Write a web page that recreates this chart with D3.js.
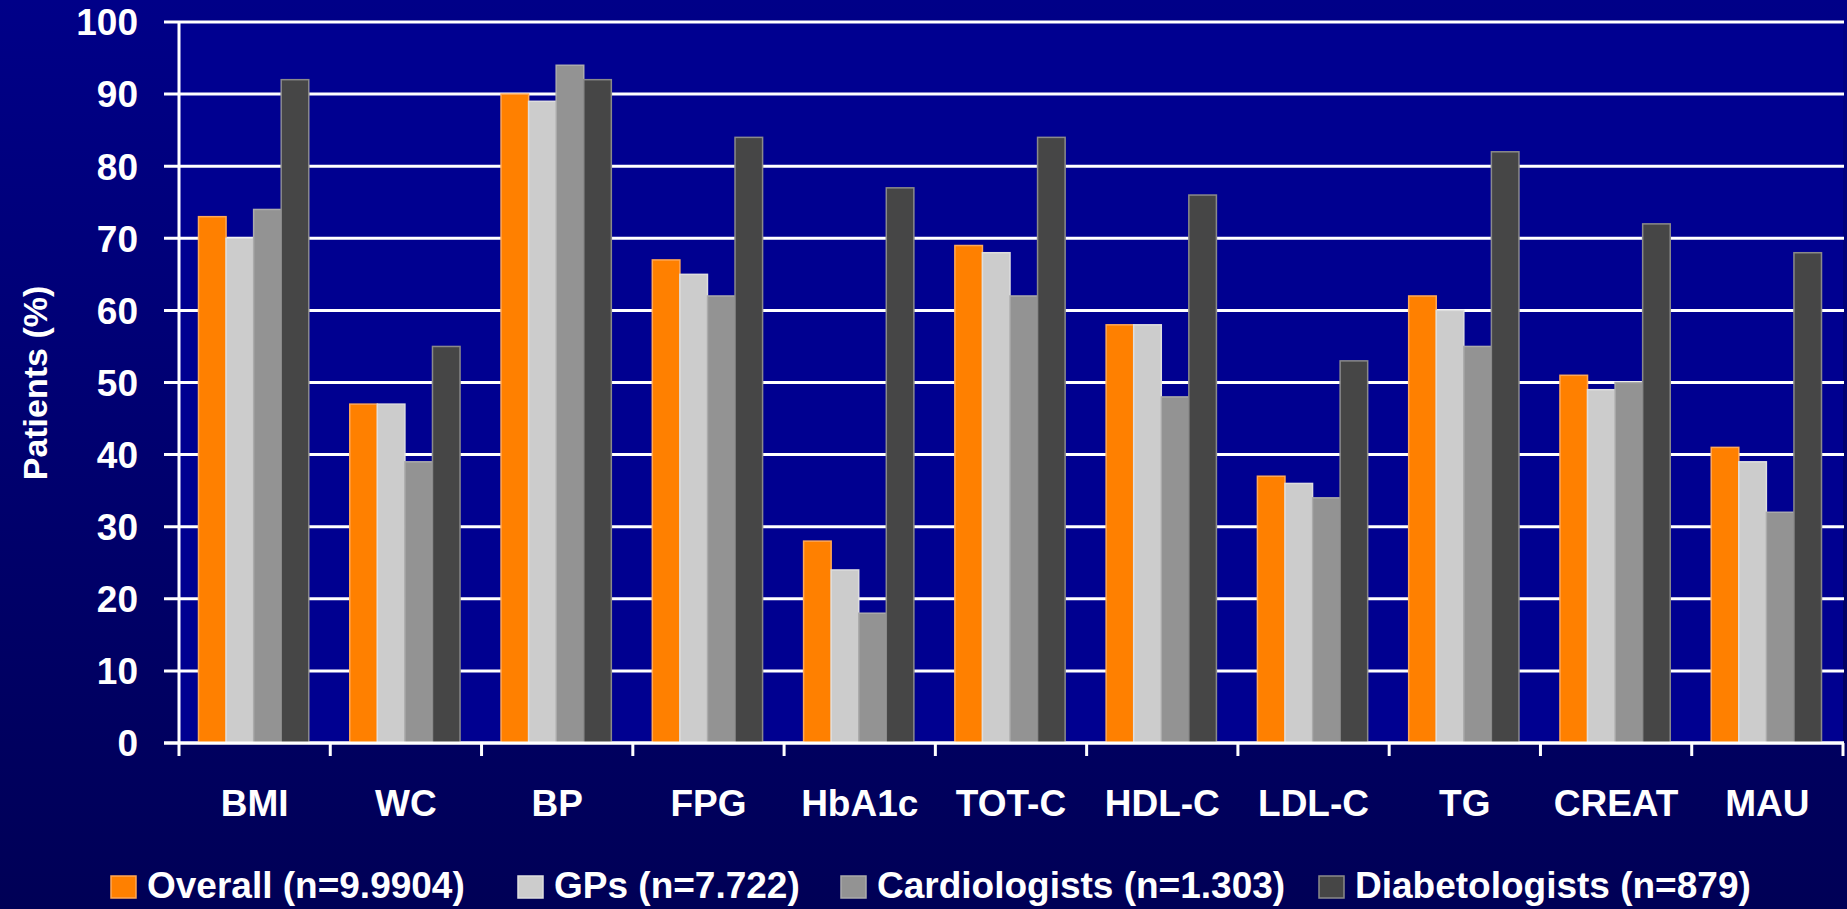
<!DOCTYPE html>
<html>
<head>
<meta charset="utf-8">
<script src="https://cdn.jsdelivr.net/npm/d3@7"></script>
<style>
  body { margin: 0; background: #000070; }
  text { font-family: "Liberation Sans", Arial, sans-serif; font-weight: bold; fill: #fff; }
</style>
</head>
<body>
<div id="chart"></div>
<script>
// data
const categories = ["BMI", "WC", "BP", "FPG", "HbA1c", "TOT-C", "HDL-C", "LDL-C", "TG", "CREAT", "MAU"]
const seriesNames = ["Overall (n=9.9904)", "GPs (n=7.722)", "Cardiologists (n=1.303)", "Diabetologists (n=879)"]
const overall = [73, 47, 90, 67, 28, 69, 58, 37, 62, 51, 41]
const gps = [70, 47, 89, 65, 24, 68, 58, 36, 60, 49, 39]
const cardiologists = [74, 39, 94, 62, 18, 62, 48, 34, 55, 50, 32]
const diabetologists = [92, 55, 92, 84, 77, 84, 76, 53, 82, 72, 68]
const yTicks = [0, 10, 20, 30, 40, 50, 60, 70, 80, 90, 100]

const seriesValues = [overall, gps, cardiologists, diabetologists]
const seriesColors = ["#ff8000", "#cccccc", "#939393", "#464646"]
const seriesEdges = ["#ffa855", "#dedede", "#ababab", "#8a8a8a"]

const width = 1847, height = 909
const plot = { left: 179, right: 1843, top: 22, bottom: 743 }

const svg = d3.select("#chart").append("svg")
    .attr("width", width)
    .attr("height", height)

// background gradient
const grad = svg.append("defs").append("linearGradient")
    .attr("id", "bg").attr("x1", 0).attr("y1", 0).attr("x2", 0).attr("y2", 1)
grad.append("stop").attr("offset", "0%").attr("stop-color", "#000088")
grad.append("stop").attr("offset", "100%").attr("stop-color", "#000056")
svg.append("rect").attr("width", width).attr("height", height).attr("fill", "url(#bg)")

// plot area
svg.append("rect")
    .attr("x", plot.left).attr("y", plot.top)
    .attr("width", plot.right - plot.left).attr("height", plot.bottom - plot.top)
    .attr("fill", "#000090")

// scales
const y = d3.scaleLinear().domain([0, 100]).range([plot.bottom, plot.top])
const x0 = d3.scaleBand().domain(categories).range([plot.left, plot.right]).padding(0)
const x1 = d3.scaleBand().domain(d3.range(seriesNames.length)).range([19.5, x0.bandwidth() - 21.5]).padding(0)

// gridlines
svg.append("g").selectAll("line")
    .data(yTicks)
    .join("line")
    .attr("x1", plot.left - 15).attr("x2", plot.right + 1)
    .attr("y1", d => y(d)).attr("y2", d => y(d))
    .attr("stroke", "#fff").attr("stroke-width", 3)

// bars
const groups = svg.append("g").selectAll("g")
    .data(categories)
    .join("g")
    .attr("transform", d => "translate(" + x0(d) + ",0)")

groups.selectAll("rect")
    .data((c, ci) => seriesValues.map((vals, si) => ({ si: si, v: vals[ci] })))
    .join("rect")
    .attr("x", d => x1(d.si))
    .attr("y", d => y(d.v))
    .attr("width", x1.bandwidth())
    .attr("height", d => y(0) - y(d.v))
    .attr("fill", d => seriesColors[d.si])
    .attr("stroke", d => seriesEdges[d.si])
    .attr("stroke-width", 1.5)

// y axis line and x axis line
svg.append("line")
    .attr("x1", plot.left).attr("x2", plot.left)
    .attr("y1", plot.top).attr("y2", plot.bottom + 13)
    .attr("stroke", "#fff").attr("stroke-width", 3)
svg.append("line")
    .attr("x1", plot.left - 15).attr("x2", plot.right + 1)
    .attr("y1", plot.bottom).attr("y2", plot.bottom)
    .attr("stroke", "#fff").attr("stroke-width", 3)

// category tick marks at band edges
svg.append("g").selectAll("line")
    .data(categories.slice(1).concat(["end"]))
    .join("line")
    .attr("x1", (d, i) => i < categories.length - 1 ? x0(d) : plot.right)
    .attr("x2", (d, i) => i < categories.length - 1 ? x0(d) : plot.right)
    .attr("y1", plot.bottom).attr("y2", plot.bottom + 13)
    .attr("stroke", "#fff").attr("stroke-width", 3)

// y tick labels
svg.append("g").selectAll("text")
    .data(yTicks)
    .join("text")
    .attr("x", 138)
    .attr("y", d => y(d))
    .attr("dy", "0.36em")
    .attr("text-anchor", "end")
    .style("font-size", "37px")
    .text(d => d)

// x category labels
svg.append("g").selectAll("text")
    .data(categories)
    .join("text")
    .attr("x", d => x0(d) + x0.bandwidth() / 2)
    .attr("y", 816)
    .attr("text-anchor", "middle")
    .style("font-size", "37px")
    .text(d => d)

// y title
svg.append("text")
    .attr("transform", "translate(47,383) rotate(-90)")
    .attr("text-anchor", "middle")
    .style("font-size", "34px")
    .text("Patients (%)")

// legend
const legendX = [111, 518, 841, 1319]
const legend = svg.append("g").selectAll("g")
    .data(seriesNames)
    .join("g")
    .attr("transform", (d, i) => "translate(" + legendX[i] + ",876)")
legend.append("rect")
    .attr("width", 25).attr("height", 22)
    .attr("fill", (d, i) => seriesColors[i])
    .attr("stroke", (d, i) => seriesEdges[i])
    .attr("stroke-width", 1.5)
legend.append("text")
    .attr("x", 36).attr("y", 22)
    .style("font-size", "37px")
    .text(d => d)
</script>
</body>
</html>
